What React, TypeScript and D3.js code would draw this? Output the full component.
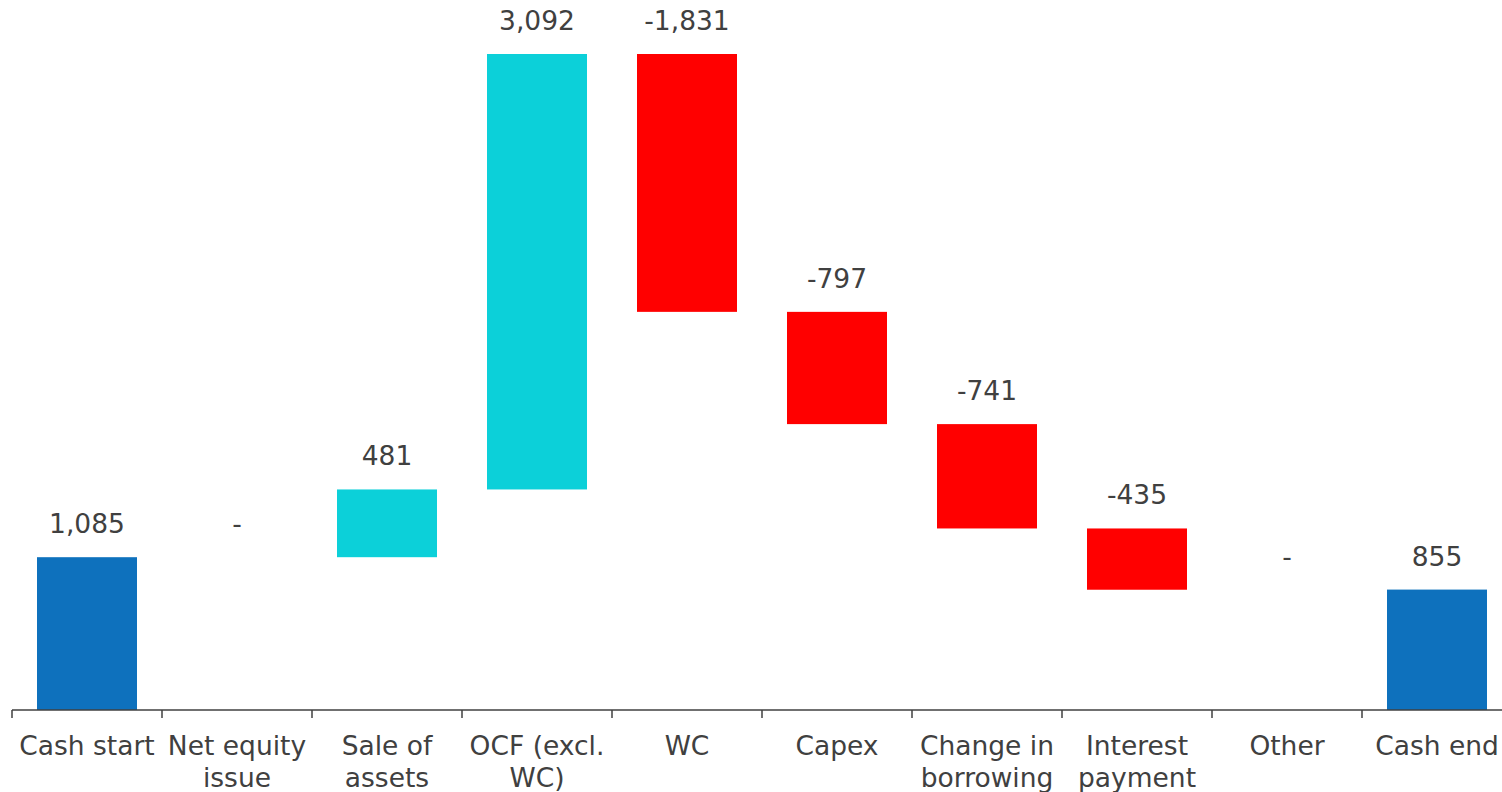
import React from "react";
import * as d3 from "d3";

const categories: string[][] = [
  ["Cash start"],
  ["Net equity", "issue"],
  ["Sale of", "assets"],
  ["OCF (excl.", "WC)"],
  ["WC"],
  ["Capex"],
  ["Change in", "borrowing"],
  ["Interest", "payment"],
  ["Other"],
  ["Cash end"],
];
const values: number[] = [1085, 0, 481, 3092, -1831, -797, -741, -435, 0, 855];
const isTotal: boolean[] = [true, false, false, false, false, false, false, false, false, true];

const W = 1502;
const H = 792;
const left = 12;
const bandW = 150;
const axisY = 710;
const topY = 54;

const COLORS = { total: "#0E71BD", up: "#0CD0D9", down: "#FF0000", text: "#404040" };
const FONT = "'DejaVu Sans', Verdana, sans-serif";

const fmt = d3
  .formatLocale({ decimal: ".", thousands: ",", grouping: [3], currency: ["$", ""], minus: "-" })
  .format(",");

export default function App() {
  // compute waterfall segments
  let cum = 0;
  const segs = values.map((v, i) => {
    let y0: number, y1: number;
    if (isTotal[i]) {
      y0 = 0;
      y1 = v;
      cum = v;
    } else {
      y0 = cum;
      y1 = cum + v;
      cum = y1;
    }
    return { i, v, y0, y1, total: isTotal[i] };
  });
  const maxY = d3.max(segs, (s) => Math.max(s.y0, s.y1)) as number;

  const x = d3
    .scaleBand<number>()
    .domain(d3.range(categories.length))
    .range([left, left + bandW * categories.length])
    .paddingInner(1 / 3)
    .paddingOuter(1 / 6);
  const y = d3.scaleLinear().domain([0, maxY]).range([axisY, topY]);

  const tickXs = d3.range(categories.length + 1).map((k) => left + k * bandW);

  return (
    <svg
      width={W}
      height={H}
      style={{ position: "fixed", left: 0, top: 0, background: "#fff" }}
      fontFamily={FONT}
    >
      {segs.map((s) => {
        const top = Math.max(s.y0, s.y1);
        const bot = Math.min(s.y0, s.y1);
        const fill = s.total ? COLORS.total : s.v >= 0 ? COLORS.up : COLORS.down;
        const cx = (x(s.i) as number) + x.bandwidth() / 2;
        return (
          <g key={s.i}>
            {s.v !== 0 && (
              <rect
                x={x(s.i)}
                y={y(top)}
                width={x.bandwidth()}
                height={y(bot) - y(top)}
                fill={fill}
              />
            )}
            <text
              x={cx}
              y={y(top) - 24}
              textAnchor="middle"
              fontSize={26.5}
              fill={COLORS.text}
            >
              {s.v === 0 ? "-" : fmt(s.v)}
            </text>
          </g>
        );
      })}
      <line x1={left} x2={W} y1={axisY} y2={axisY} stroke={COLORS.text} strokeWidth={1.5} />
      {tickXs.map((tx, k) => (
        <line key={k} x1={tx} x2={tx} y1={axisY} y2={axisY + 8} stroke={COLORS.text} strokeWidth={1.5} />
      ))}
      {categories.map((lines, i) => (
        <text
          key={i}
          x={(x(i) as number) + x.bandwidth() / 2}
          y={755}
          textAnchor="middle"
          fontSize={26.5}
          fill={COLORS.text}
        >
          {lines.map((ln, j) => (
            <tspan key={j} x={(x(i) as number) + x.bandwidth() / 2} dy={j === 0 ? 0 : 32}>
              {ln}
            </tspan>
          ))}
        </text>
      ))}
    </svg>
  );
}
